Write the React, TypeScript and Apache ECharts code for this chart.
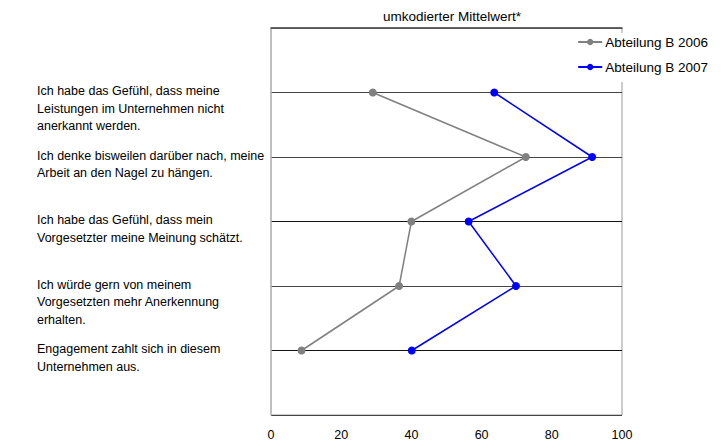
import React, { useEffect, useRef } from "react";
import * as echarts from "echarts";

const categories: string[] = [
  "Ich habe das Gefühl, dass meine\nLeistungen im Unternehmen nicht\nanerkannt werden.",
  "Ich denke bisweilen darüber nach, meine\nArbeit an den Nagel zu hängen.",
  "Ich habe das Gefühl, dass mein\nVorgesetzter meine Meinung schätzt.",
  "Ich würde gern von meinem\nVorgesetzten mehr Anerkennung\nerhalten.",
  "Engagement zahlt sich in diesem\nUnternehmen aus.",
];
const positions: number[] = [1, 2, 3, 4, 5];
const values2006: number[] = [29.0, 72.6, 40.0, 36.5, 8.7];
const values2007: number[] = [63.6, 91.5, 56.3, 69.8, 40.1];
const seriesNames: string[] = ["Abteilung B 2006", "Abteilung B 2007"];
const xTicks: number[] = [0, 20, 40, 60, 80, 100];

const FONT = "'Liberation Sans', Arial, sans-serif";

export default function App() {
  const ref = useRef<HTMLDivElement>(null);
  useEffect(() => {
    document.body.style.margin = "0";
    if (!ref.current) return;
    const chart = echarts.init(ref.current, undefined, { renderer: "svg" });
    chart.setOption({
      animation: false,
      backgroundColor: "#fff",
      textStyle: { fontFamily: FONT },
      title: {
        text: "umkodierter Mittelwert*",
        left: 447,
        textAlign: "center",
        top: 4,
        textStyle: { fontSize: 13.5, fontWeight: "normal", color: "#000", fontFamily: FONT },
      },
      legend: {
        orient: "vertical",
        right: 16,
        top: 33,
        itemWidth: 24,
        itemHeight: 8,
        itemGap: 11,
        backgroundColor: "#fff",
        padding: [2, 3, 8, 4],
        textStyle: { fontSize: 13.5, color: "#000", fontFamily: FONT, padding: [0, 0, 0, -2] },
        data: seriesNames,
      },
      grid: {
        left: 271,
        right: 105,
        top: 28,
        bottom: 32,
        show: true,
        borderColor: "#999",
        borderWidth: 1,
        containLabel: false,
      },
      xAxis: {
        type: "value",
        min: 0,
        max: 100,
        interval: 20,
        axisLine: { show: true, lineStyle: { color: "#444", width: 1.5 } },
        axisTick: { show: false },
        splitLine: { show: false },
        axisLabel: {
          margin: 13,
          fontSize: 12.5,
          color: "#000",
          fontFamily: FONT,
          formatter: (v: number) => (xTicks.includes(v) ? String(v) : ""),
        },
      },
      yAxis: {
        type: "value",
        min: 0,
        max: 6,
        interval: 1,
        inverse: true,
        axisLine: { show: true, lineStyle: { color: "#bbb", width: 1.5 } },
        axisTick: { show: false },
        splitLine: {
          show: true,
          lineStyle: {
            color: ["#888", "#444", "#444", "#111", "#444", "#111", "#444"],
            width: 1,
          },
        },
        axisLabel: {
          margin: 234,
          align: "left",
          verticalAlign: "top",
          lineHeight: 17.5,
          padding: [-10, 0, 0, 0],
          fontSize: 12.5,
          color: "#000",
          fontFamily: FONT,
          formatter: (v: number) => {
            const i = positions.indexOf(v);
            return i >= 0 ? categories[i] : "";
          },
        },
      },
      series: [
        {
          name: seriesNames[0],
          type: "line",
          data: values2006.map((v, i) => [v, positions[i]]),
          symbol: "circle",
          symbolSize: 8,
          itemStyle: { color: "#808080" },
          lineStyle: { color: "#808080", width: 1.5 },
        },
        {
          name: seriesNames[1],
          type: "line",
          data: values2007.map((v, i) => [v, positions[i]]),
          symbol: "circle",
          symbolSize: 8,
          itemStyle: { color: "#0000ff" },
          lineStyle: { color: "#0000ff", width: 1.5 },
        },
      ],
    });
    return () => chart.dispose();
  }, []);
  return <div ref={ref} style={{ width: 727, height: 447 }} />;
}
